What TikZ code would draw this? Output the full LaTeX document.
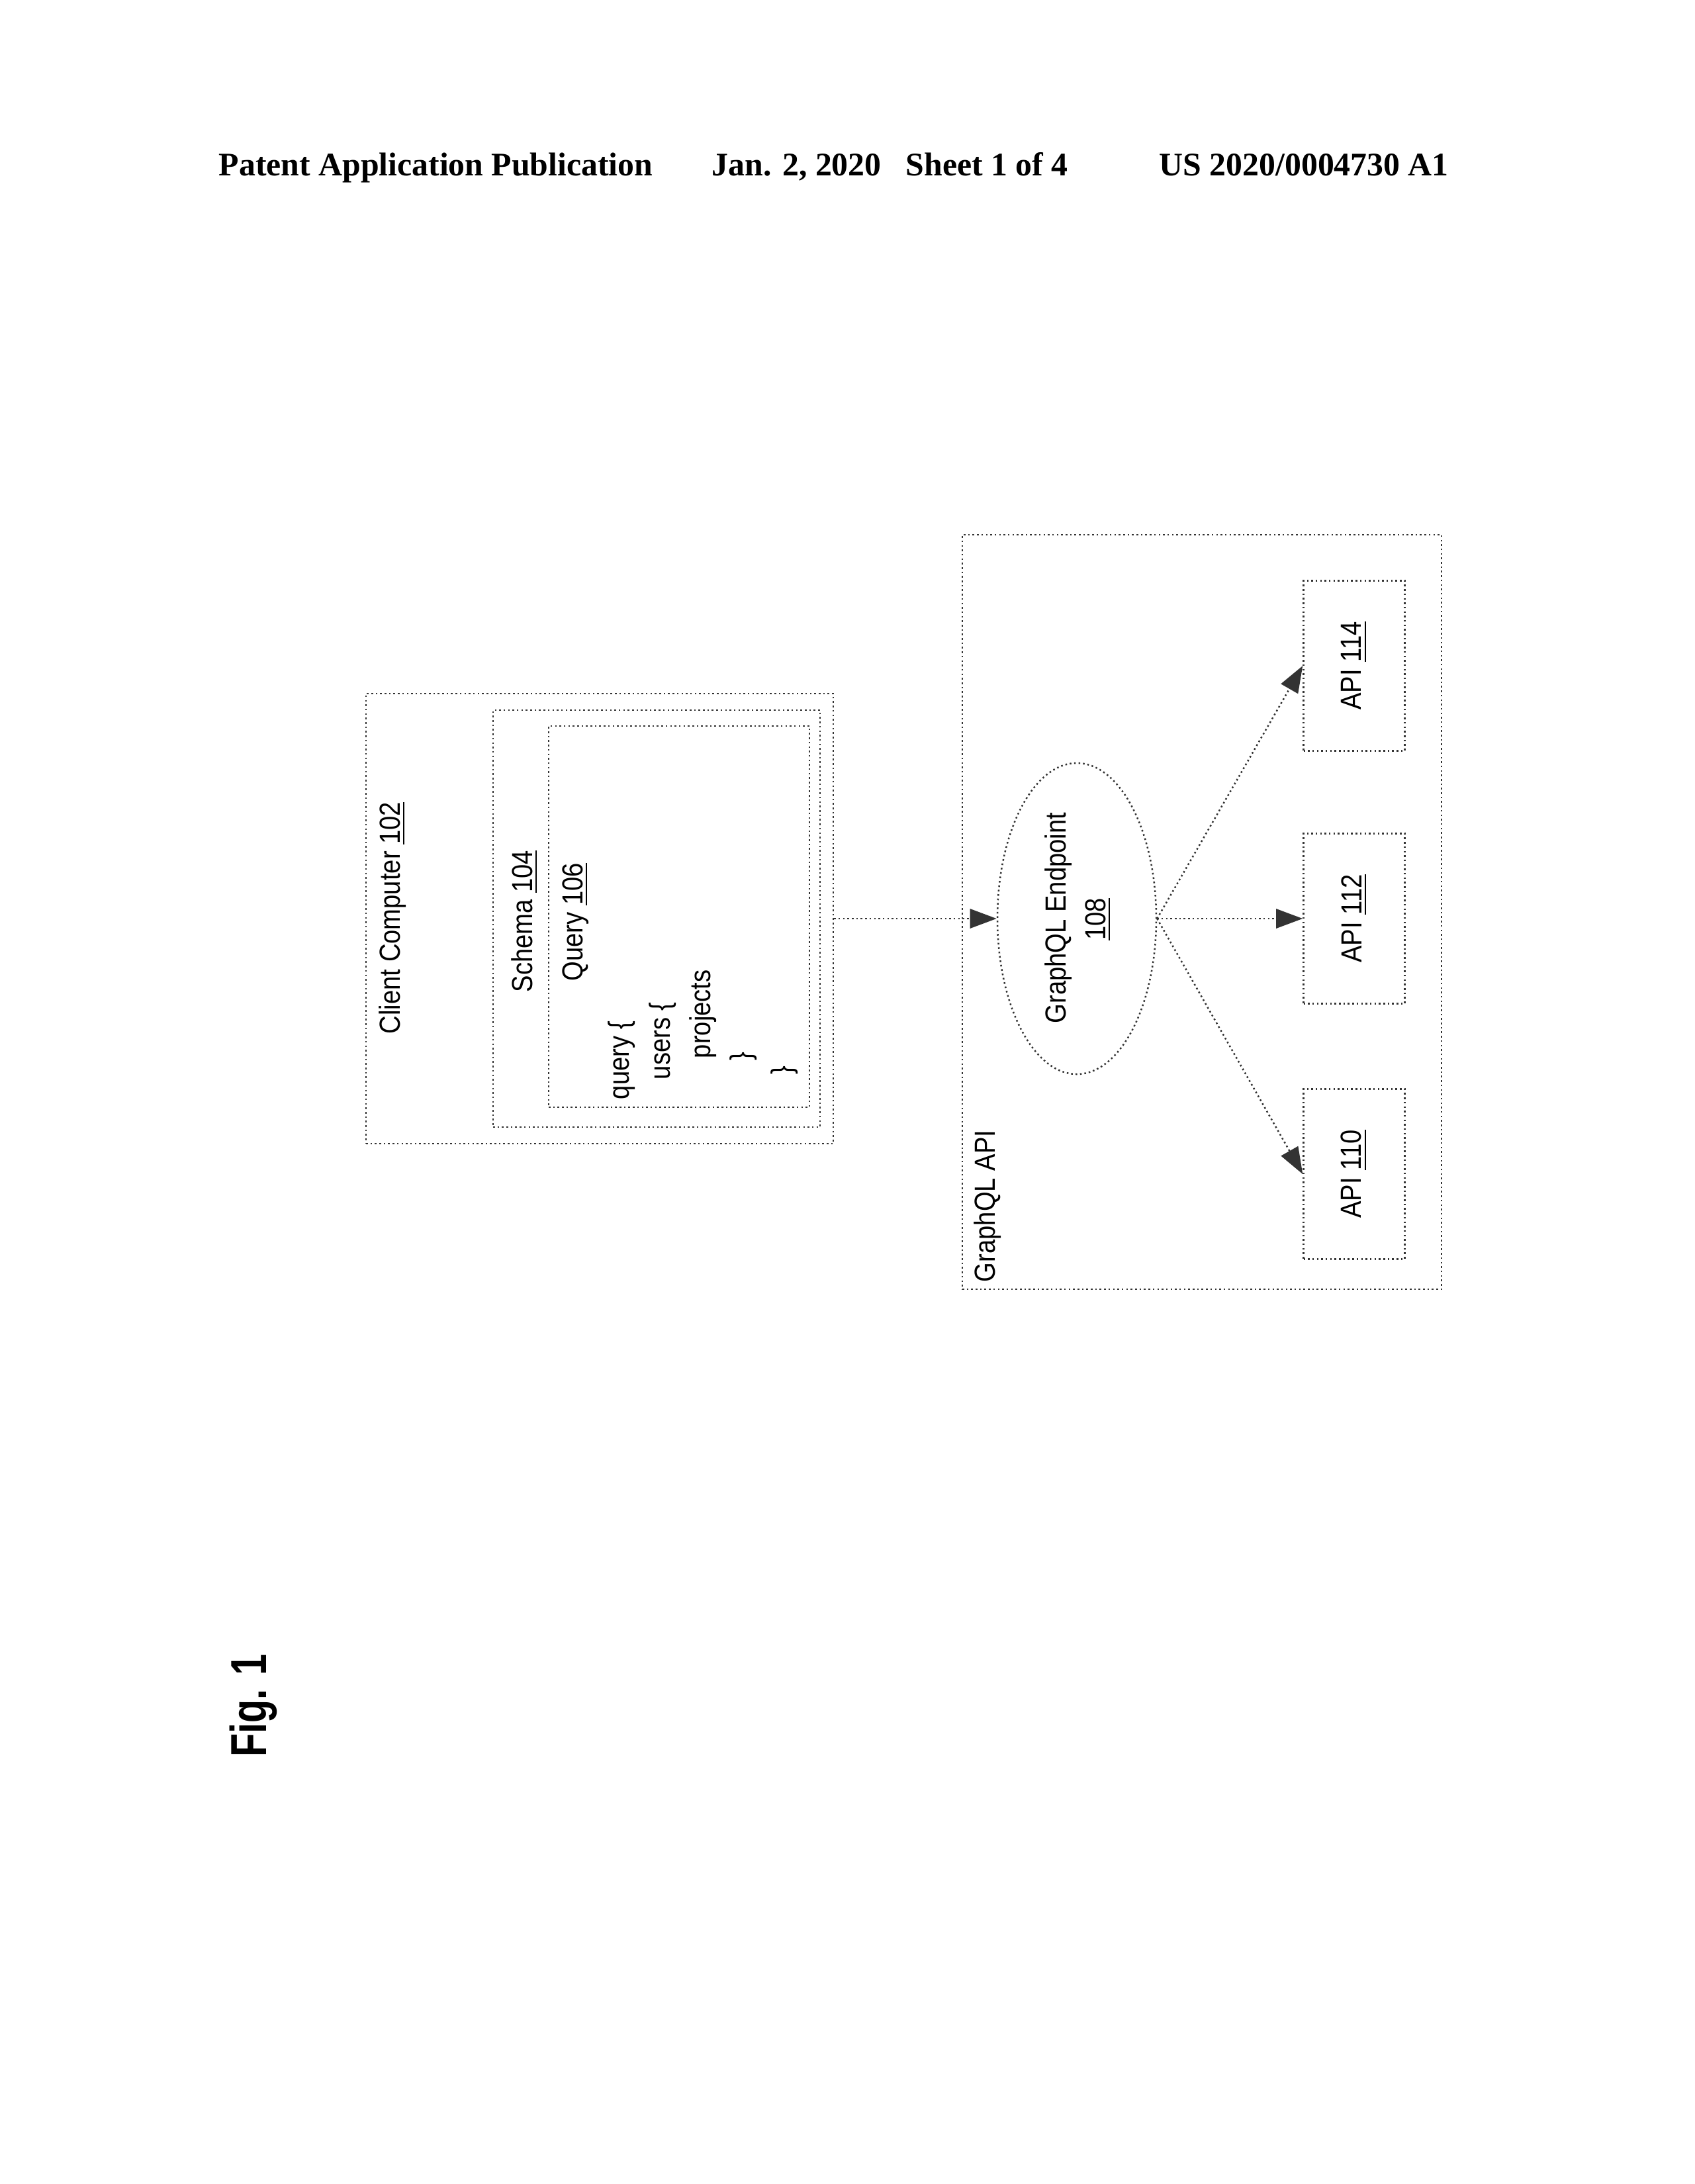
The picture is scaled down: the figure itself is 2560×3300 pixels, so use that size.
\documentclass[tikz,border=0pt]{standalone}
\usepackage{fontspec}
\usetikzlibrary{arrows.meta,shapes.geometric}
\newfontfamily\labelfont{Liberation Sans}[FakeStretch=0.87]
\newfontfamily\headfont{Liberation Serif}
\newfontfamily\figfont{Liberation Sans}[FakeStretch=0.75]
\newcommand{\refnum}[1]{\underline{#1}}
\newcommand{\pxu}{0.2390625pt}
\begin{document}
\begin{tikzpicture}[x=0.2390625pt, y=-0.2390625pt,
  dotline/.style={line width=0.6pt, densely dotted, draw=black!80},
  box/.style={dotline, rectangle, inner sep=0pt},
  lbl/.style={rotate=90, anchor=base, inner sep=0pt, font=\labelfont\fontsize{10.5}{12}\selectfont},
  codeline/.style={lbl, anchor=base west},
  head/.style={anchor=base west, inner sep=0pt, font=\headfont\bfseries\fontsize{11.9}{14}\selectfont},
  >={Triangle[length=9.6pt,width=7pt]}]
  \useasboundingbox (0,0) rectangle (2560,3300);
  % header
  \node[head] (pubtitle) at (330,265) {Patent Application Publication};
  \node[head] (pubdate) at (1075,265) {Jan. 2, 2020};
  \node[head] (pubsheet) at (1368,265) {Sheet 1 of 4};
  \node[head] (pubnum) at (1751,265) {US 2020/0004730 A1};
  % client side
  \node[box, minimum width=706*\pxu, minimum height=680*\pxu] (client) at (906,1388) {};
  \node[box, minimum width=494*\pxu, minimum height=630*\pxu] (schema) at (992,1388) {};
  \node[box, minimum width=394*\pxu, minimum height=576*\pxu] (query) at (1026,1385) {};
  \node[lbl] (clientlbl) at (604,1387) {Client Computer \refnum{102}};
  \node[lbl] (schemalbl) at (804,1392) {Schema \refnum{104}};
  \node[lbl] (querylbl) at (880,1393) {Query \refnum{106}};
  \node[codeline] (code1) at (950,1662) {query \{};
  \node[codeline] (code2) at (1012,1632) {users \{};
  \node[codeline] (code3) at (1073,1600) {projects};
  \node[codeline] (code4) at (1134,1603) {\}};
  \node[codeline] (code5) at (1196,1624) {\}};
  % api side
  \node[box, minimum width=724*\pxu, minimum height=1140*\pxu] (gapi) at (1816,1378) {};
  \node[lbl, anchor=base west] (gapilbl) at (1503,1938) {GraphQL API};
  \node[box, ellipse, minimum width=240*\pxu, minimum height=470*\pxu] (endpoint) at (1627,1388) {};
  \node[lbl] (eplbl) at (1610,1387) {GraphQL Endpoint};
  \node[lbl] (epnum) at (1670,1389) {\refnum{108}};
  \foreach \n/\y in {110/1774, 112/1388, 114/1006}
  {
    \node[box, minimum width=153*\pxu, minimum height=257*\pxu] (api\n) at (2046,\y)
      {\labelfont\fontsize{10.5}{12}\selectfont\rotatebox{90}{API \refnum{\n}}};
  }
  \draw[dotline, ->] (client.east) -- (endpoint.west);
  \foreach \n in {110,112,114}
  {
    \draw[dotline, ->] (endpoint.east) -- (api\n.west);
  }
  \node[rotate=90, anchor=base, inner sep=0pt, font=\figfont\bfseries\fontsize{18.3}{20}\selectfont] (figlbl) at (402,2577) {Fig. 1};
\end{tikzpicture}
\end{document}
